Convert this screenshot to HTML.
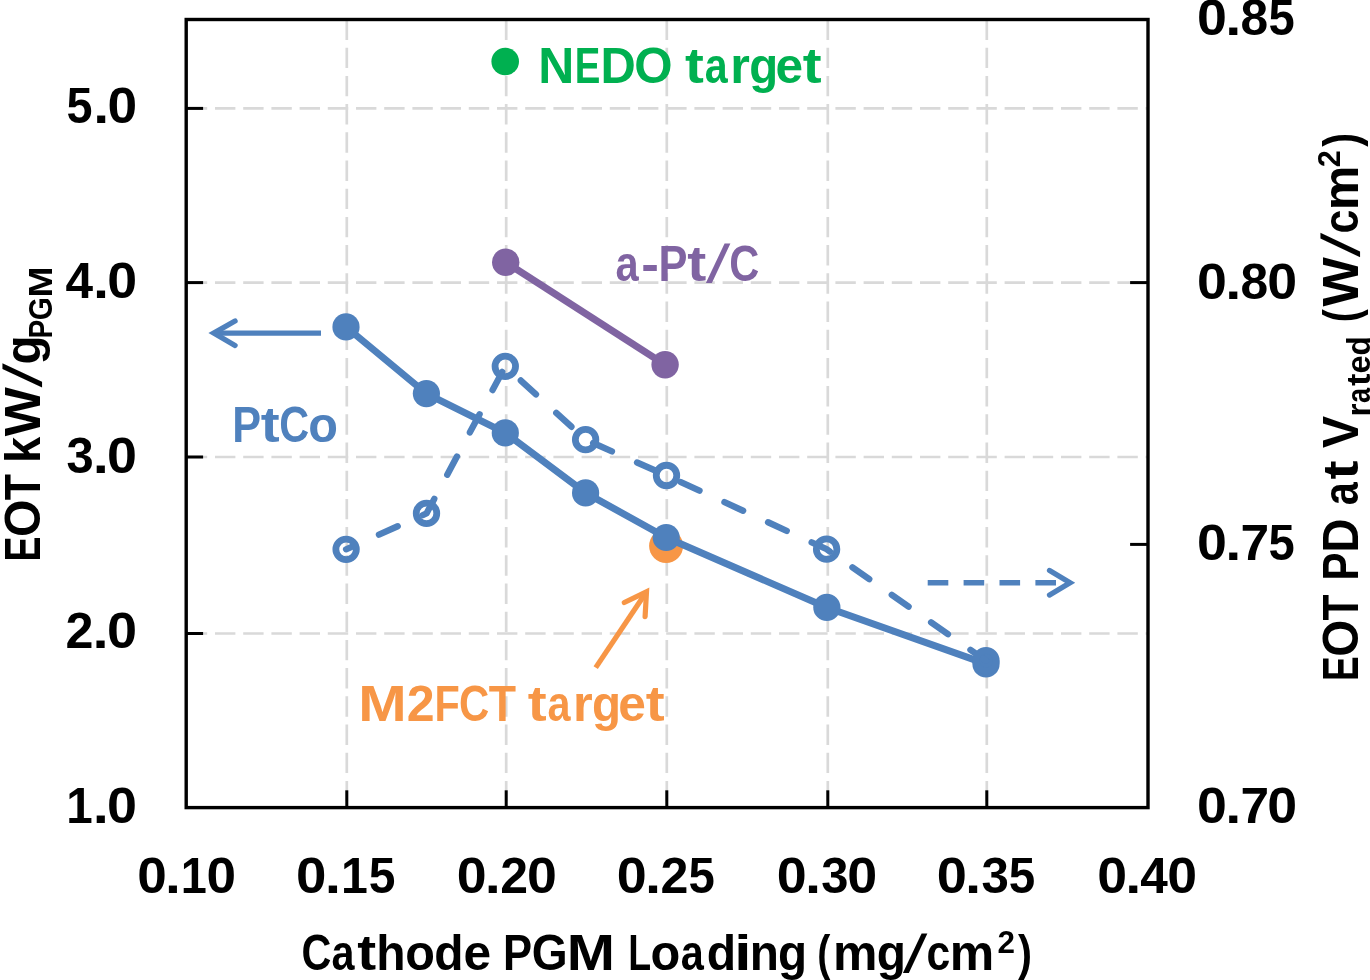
<!DOCTYPE html>
<html><head><meta charset="utf-8"><style>html,body{margin:0;padding:0;background:#fff;overflow:hidden}svg{display:block;will-change:transform}</style></head>
<body>
<svg width="1370" height="980" viewBox="0 0 1370 980">
<rect width="1370" height="980" fill="#fff"/>
<line x1="186.2" y1="108.4" x2="1148.0" y2="108.4" stroke="#D9D9D9" stroke-width="2.7" stroke-dasharray="20.4 7.8" stroke-dashoffset="-0.6"/>
<line x1="186.2" y1="282.6" x2="1148.0" y2="282.6" stroke="#D9D9D9" stroke-width="2.7" stroke-dasharray="20.4 7.8" stroke-dashoffset="-0.6"/>
<line x1="186.2" y1="457.0" x2="1148.0" y2="457.0" stroke="#D9D9D9" stroke-width="2.7" stroke-dasharray="20.4 7.8" stroke-dashoffset="-0.6"/>
<line x1="186.2" y1="633.5" x2="1148.0" y2="633.5" stroke="#D9D9D9" stroke-width="2.7" stroke-dasharray="20.4 7.8" stroke-dashoffset="-0.6"/>
<line x1="346.8" y1="19.5" x2="346.8" y2="807.6" stroke="#D9D9D9" stroke-width="2.7" stroke-dasharray="20.4 7.8"/>
<line x1="506.2" y1="19.5" x2="506.2" y2="807.6" stroke="#D9D9D9" stroke-width="2.7" stroke-dasharray="20.4 7.8"/>
<line x1="666.8" y1="19.5" x2="666.8" y2="807.6" stroke="#D9D9D9" stroke-width="2.7" stroke-dasharray="20.4 7.8"/>
<line x1="827.8" y1="19.5" x2="827.8" y2="807.6" stroke="#D9D9D9" stroke-width="2.7" stroke-dasharray="20.4 7.8"/>
<line x1="986.8" y1="19.5" x2="986.8" y2="807.6" stroke="#D9D9D9" stroke-width="2.7" stroke-dasharray="20.4 7.8"/>
<line x1="186.2" y1="108.4" x2="203.1" y2="108.4" stroke="#000" stroke-width="3.0"/>
<line x1="186.2" y1="282.6" x2="203.1" y2="282.6" stroke="#000" stroke-width="3.0"/>
<line x1="186.2" y1="457.0" x2="203.1" y2="457.0" stroke="#000" stroke-width="3.0"/>
<line x1="186.2" y1="633.5" x2="203.1" y2="633.5" stroke="#000" stroke-width="3.0"/>
<line x1="1130.1" y1="282.6" x2="1148.0" y2="282.6" stroke="#000" stroke-width="3.0"/>
<line x1="1130.1" y1="544.4" x2="1148.0" y2="544.4" stroke="#000" stroke-width="3.0"/>
<line x1="346.8" y1="807.6" x2="346.8" y2="790.3" stroke="#000" stroke-width="3.0"/>
<line x1="506.2" y1="807.6" x2="506.2" y2="790.3" stroke="#000" stroke-width="3.0"/>
<line x1="666.8" y1="807.6" x2="666.8" y2="790.3" stroke="#000" stroke-width="3.0"/>
<line x1="827.8" y1="807.6" x2="827.8" y2="790.3" stroke="#000" stroke-width="3.0"/>
<line x1="986.8" y1="807.6" x2="986.8" y2="790.3" stroke="#000" stroke-width="3.0"/>
<rect x="186.2" y="19.5" width="961.8" height="788.1" fill="none" stroke="#000" stroke-width="3.4"/>
<text y="893.3" font-size="50" font-family="Liberation Sans, sans-serif" font-weight="bold" fill="#000"><tspan x="137.20" textLength="29.54" lengthAdjust="spacingAndGlyphs">0</tspan><tspan x="164.99" textLength="15.90" lengthAdjust="spacingAndGlyphs">.</tspan><tspan x="180.82" textLength="26.07" lengthAdjust="spacingAndGlyphs">1</tspan><tspan x="206.64" textLength="29.54" lengthAdjust="spacingAndGlyphs">0</tspan></text>
<text y="893.3" font-size="50" font-family="Liberation Sans, sans-serif" font-weight="bold" fill="#000"><tspan x="296.04" textLength="30.41" lengthAdjust="spacingAndGlyphs">0</tspan><tspan x="324.65" textLength="16.37" lengthAdjust="spacingAndGlyphs">.</tspan><tspan x="340.95" textLength="26.84" lengthAdjust="spacingAndGlyphs">1</tspan><tspan x="368.68" textLength="26.66" lengthAdjust="spacingAndGlyphs">5</tspan></text>
<text y="893.3" font-size="50" font-family="Liberation Sans, sans-serif" font-weight="bold" fill="#000"><tspan x="456.78" textLength="29.88" lengthAdjust="spacingAndGlyphs">0</tspan><tspan x="484.89" textLength="16.08" lengthAdjust="spacingAndGlyphs">.</tspan><tspan x="500.34" textLength="27.78" lengthAdjust="spacingAndGlyphs">2</tspan><tspan x="527.02" textLength="29.88" lengthAdjust="spacingAndGlyphs">0</tspan></text>
<text y="893.3" font-size="50" font-family="Liberation Sans, sans-serif" font-weight="bold" fill="#000"><tspan x="616.77" textLength="29.99" lengthAdjust="spacingAndGlyphs">0</tspan><tspan x="644.99" textLength="16.14" lengthAdjust="spacingAndGlyphs">.</tspan><tspan x="660.50" textLength="27.89" lengthAdjust="spacingAndGlyphs">2</tspan><tspan x="688.42" textLength="26.29" lengthAdjust="spacingAndGlyphs">5</tspan></text>
<text y="893.3" font-size="50" font-family="Liberation Sans, sans-serif" font-weight="bold" fill="#000"><tspan x="776.77" textLength="29.97" lengthAdjust="spacingAndGlyphs">0</tspan><tspan x="804.97" textLength="16.13" lengthAdjust="spacingAndGlyphs">.</tspan><tspan x="821.27" textLength="27.20" lengthAdjust="spacingAndGlyphs">3</tspan><tspan x="847.24" textLength="29.97" lengthAdjust="spacingAndGlyphs">0</tspan></text>
<text y="893.3" font-size="50" font-family="Liberation Sans, sans-serif" font-weight="bold" fill="#000"><tspan x="936.76" textLength="30.15" lengthAdjust="spacingAndGlyphs">0</tspan><tspan x="965.12" textLength="16.23" lengthAdjust="spacingAndGlyphs">.</tspan><tspan x="981.53" textLength="27.37" lengthAdjust="spacingAndGlyphs">3</tspan><tspan x="1008.79" textLength="26.43" lengthAdjust="spacingAndGlyphs">5</tspan></text>
<text y="893.3" font-size="50" font-family="Liberation Sans, sans-serif" font-weight="bold" fill="#000"><tspan x="1097.28" textLength="29.82" lengthAdjust="spacingAndGlyphs">0</tspan><tspan x="1125.33" textLength="16.05" lengthAdjust="spacingAndGlyphs">.</tspan><tspan x="1140.29" textLength="27.53" lengthAdjust="spacingAndGlyphs">4</tspan><tspan x="1167.38" textLength="29.82" lengthAdjust="spacingAndGlyphs">0</tspan></text>
<text y="823" font-size="50" font-family="Liberation Sans, sans-serif" font-weight="bold" fill="#000"><tspan x="66.20" textLength="26.47" lengthAdjust="spacingAndGlyphs">1</tspan><tspan x="92.73" textLength="16.14" lengthAdjust="spacingAndGlyphs">.</tspan><tspan x="107.12" textLength="29.99" lengthAdjust="spacingAndGlyphs">0</tspan></text>
<text y="648" font-size="50" font-family="Liberation Sans, sans-serif" font-weight="bold" fill="#000"><tspan x="65.46" textLength="27.96" lengthAdjust="spacingAndGlyphs">2</tspan><tspan x="92.62" textLength="16.18" lengthAdjust="spacingAndGlyphs">.</tspan><tspan x="107.05" textLength="30.07" lengthAdjust="spacingAndGlyphs">0</tspan></text>
<text y="472.5" font-size="50" font-family="Liberation Sans, sans-serif" font-weight="bold" fill="#000"><tspan x="66.48" textLength="27.20" lengthAdjust="spacingAndGlyphs">3</tspan><tspan x="92.76" textLength="16.13" lengthAdjust="spacingAndGlyphs">.</tspan><tspan x="107.14" textLength="29.97" lengthAdjust="spacingAndGlyphs">0</tspan></text>
<text y="298" font-size="50" font-family="Liberation Sans, sans-serif" font-weight="bold" fill="#000"><tspan x="65.45" textLength="27.58" lengthAdjust="spacingAndGlyphs">4</tspan><tspan x="92.90" textLength="16.08" lengthAdjust="spacingAndGlyphs">.</tspan><tspan x="107.23" textLength="29.87" lengthAdjust="spacingAndGlyphs">0</tspan></text>
<text y="122.6" font-size="50" font-family="Liberation Sans, sans-serif" font-weight="bold" fill="#000"><tspan x="66.46" textLength="25.98" lengthAdjust="spacingAndGlyphs">5</tspan><tspan x="93.23" textLength="15.95" lengthAdjust="spacingAndGlyphs">.</tspan><tspan x="107.45" textLength="29.64" lengthAdjust="spacingAndGlyphs">0</tspan></text>
<text y="35" font-size="50" font-family="Liberation Sans, sans-serif" font-weight="bold" fill="#000"><tspan x="1197.07" textLength="29.90" lengthAdjust="spacingAndGlyphs">0</tspan><tspan x="1225.20" textLength="16.09" lengthAdjust="spacingAndGlyphs">.</tspan><tspan x="1240.61" textLength="27.66" lengthAdjust="spacingAndGlyphs">8</tspan><tspan x="1268.50" textLength="26.21" lengthAdjust="spacingAndGlyphs">5</tspan></text>
<text y="298.6" font-size="50" font-family="Liberation Sans, sans-serif" font-weight="bold" fill="#000"><tspan x="1197.08" textLength="29.88" lengthAdjust="spacingAndGlyphs">0</tspan><tspan x="1225.19" textLength="16.08" lengthAdjust="spacingAndGlyphs">.</tspan><tspan x="1240.58" textLength="27.64" lengthAdjust="spacingAndGlyphs">8</tspan><tspan x="1267.32" textLength="29.88" lengthAdjust="spacingAndGlyphs">0</tspan></text>
<text y="559.8" font-size="50" font-family="Liberation Sans, sans-serif" font-weight="bold" fill="#000"><tspan x="1197.07" textLength="29.90" lengthAdjust="spacingAndGlyphs">0</tspan><tspan x="1225.20" textLength="16.09" lengthAdjust="spacingAndGlyphs">.</tspan><tspan x="1240.54" textLength="28.65" lengthAdjust="spacingAndGlyphs">7</tspan><tspan x="1268.50" textLength="26.21" lengthAdjust="spacingAndGlyphs">5</tspan></text>
<text y="823.4" font-size="50" font-family="Liberation Sans, sans-serif" font-weight="bold" fill="#000"><tspan x="1197.08" textLength="29.88" lengthAdjust="spacingAndGlyphs">0</tspan><tspan x="1225.19" textLength="16.08" lengthAdjust="spacingAndGlyphs">.</tspan><tspan x="1240.51" textLength="28.63" lengthAdjust="spacingAndGlyphs">7</tspan><tspan x="1267.32" textLength="29.88" lengthAdjust="spacingAndGlyphs">0</tspan></text>
<text y="970.2" font-size="50" font-family="Liberation Sans, sans-serif" font-weight="bold" fill="#000"><tspan x="301.40" textLength="29.88" lengthAdjust="spacingAndGlyphs">C</tspan><tspan x="331.43" textLength="22.99" lengthAdjust="spacingAndGlyphs">a</tspan><tspan x="357.31" textLength="18.90" lengthAdjust="spacingAndGlyphs">t</tspan><tspan x="376.27" textLength="29.33" lengthAdjust="spacingAndGlyphs">h</tspan><tspan x="405.18" textLength="29.68" lengthAdjust="spacingAndGlyphs">o</tspan><tspan x="434.31" textLength="29.29" lengthAdjust="spacingAndGlyphs">d</tspan><tspan x="463.45" textLength="27.65" lengthAdjust="spacingAndGlyphs">e</tspan></text>
<text y="970.2" font-size="50" font-family="Liberation Sans, sans-serif" font-weight="bold" fill="#000"><tspan x="503.08" textLength="29.08" lengthAdjust="spacingAndGlyphs">P</tspan><tspan x="531.64" textLength="35.91" lengthAdjust="spacingAndGlyphs">G</tspan><tspan x="566.87" textLength="48.21" lengthAdjust="spacingAndGlyphs">M</tspan></text>
<text y="970.2" font-size="50" font-family="Liberation Sans, sans-serif" font-weight="bold" fill="#000"><tspan x="628.19" textLength="22.89" lengthAdjust="spacingAndGlyphs">L</tspan><tspan x="650.58" textLength="29.76" lengthAdjust="spacingAndGlyphs">o</tspan><tspan x="680.81" textLength="23.05" lengthAdjust="spacingAndGlyphs">a</tspan><tspan x="706.64" textLength="29.37" lengthAdjust="spacingAndGlyphs">d</tspan><tspan x="734.20" textLength="17.21" lengthAdjust="spacingAndGlyphs">i</tspan><tspan x="749.64" textLength="29.17" lengthAdjust="spacingAndGlyphs">n</tspan><tspan x="777.98" textLength="29.10" lengthAdjust="spacingAndGlyphs">g</tspan></text>
<text y="970.2" font-size="50" font-family="Liberation Sans, sans-serif" font-weight="bold" fill="#000"><tspan x="817.34" textLength="13.09" lengthAdjust="spacingAndGlyphs">(</tspan><tspan x="833.10" textLength="44.45" lengthAdjust="spacingAndGlyphs">m</tspan><tspan x="876.70" textLength="29.22" lengthAdjust="spacingAndGlyphs">g</tspan></text>
<text transform=" translate(902.65,971.54) scale(1,1.0645) skewX(-17.26)" x="0" y="0" font-size="50" font-family="Liberation Sans, sans-serif" font-weight="bold" fill="#000">/</text>
<text y="970.2" font-size="50" font-family="Liberation Sans, sans-serif" font-weight="bold" fill="#000"><tspan x="926.57" textLength="23.75" lengthAdjust="spacingAndGlyphs">c</tspan><tspan x="949.75" textLength="44.45" lengthAdjust="spacingAndGlyphs">m</tspan></text>
<text x="997.42" y="952.8" font-size="32" font-family="Liberation Sans, sans-serif" font-weight="bold" fill="#000" textLength="17.46" lengthAdjust="spacingAndGlyphs">2</text>
<text x="1018.10" y="970.2" font-size="50" font-family="Liberation Sans, sans-serif" font-weight="bold" fill="#000" textLength="14.04" lengthAdjust="spacingAndGlyphs">)</text>
<text y="82.5" font-size="50" font-family="Liberation Sans, sans-serif" font-weight="bold" fill="#00B050"><tspan x="538.16" textLength="36.04" lengthAdjust="spacingAndGlyphs">N</tspan><tspan x="574.64" textLength="25.60" lengthAdjust="spacingAndGlyphs">E</tspan><tspan x="600.41" textLength="35.27" lengthAdjust="spacingAndGlyphs">D</tspan><tspan x="634.13" textLength="38.34" lengthAdjust="spacingAndGlyphs">O</tspan></text>
<text y="82.5" font-size="50" font-family="Liberation Sans, sans-serif" font-weight="bold" fill="#00B050"><tspan x="685.11" textLength="18.85" lengthAdjust="spacingAndGlyphs">t</tspan><tspan x="704.78" textLength="22.93" lengthAdjust="spacingAndGlyphs">a</tspan><tspan x="730.36" textLength="19.63" lengthAdjust="spacingAndGlyphs">r</tspan><tspan x="749.32" textLength="28.95" lengthAdjust="spacingAndGlyphs">g</tspan><tspan x="775.41" textLength="27.58" lengthAdjust="spacingAndGlyphs">e</tspan><tspan x="802.74" textLength="18.85" lengthAdjust="spacingAndGlyphs">t</tspan></text>
<text y="280.5" font-size="50" font-family="Liberation Sans, sans-serif" font-weight="bold" fill="#8064A2"><tspan x="615.48" textLength="23.13" lengthAdjust="spacingAndGlyphs">a</tspan><tspan x="641.26" textLength="17.66" lengthAdjust="spacingAndGlyphs">-</tspan><tspan x="658.58" textLength="28.97" lengthAdjust="spacingAndGlyphs">P</tspan><tspan x="687.29" textLength="19.01" lengthAdjust="spacingAndGlyphs">t</tspan></text>
<text transform=" translate(705.75,281.84) scale(1,1.0645) skewX(-17.24)" x="0" y="0" font-size="50" font-family="Liberation Sans, sans-serif" font-weight="bold" fill="#8064A2">/</text>
<text y="280.5" font-size="50" font-family="Liberation Sans, sans-serif" font-weight="bold" fill="#8064A2"><tspan x="729.27" textLength="30.06" lengthAdjust="spacingAndGlyphs">C</tspan></text>
<text y="441.9" font-size="50" font-family="Liberation Sans, sans-serif" font-weight="bold" fill="#4F81BD"><tspan x="232.21" textLength="28.82" lengthAdjust="spacingAndGlyphs">P</tspan><tspan x="260.77" textLength="18.92" lengthAdjust="spacingAndGlyphs">t</tspan><tspan x="279.21" textLength="29.91" lengthAdjust="spacingAndGlyphs">C</tspan><tspan x="308.29" textLength="29.71" lengthAdjust="spacingAndGlyphs">o</tspan></text>
<text y="720.6" font-size="50" font-family="Liberation Sans, sans-serif" font-weight="bold" fill="#F79646"><tspan x="358.31" textLength="48.40" lengthAdjust="spacingAndGlyphs">M</tspan><tspan x="406.68" textLength="27.87" lengthAdjust="spacingAndGlyphs">2</tspan><tspan x="434.61" textLength="25.27" lengthAdjust="spacingAndGlyphs">F</tspan><tspan x="459.12" textLength="30.30" lengthAdjust="spacingAndGlyphs">C</tspan><tspan x="488.82" textLength="27.26" lengthAdjust="spacingAndGlyphs">T</tspan></text>
<text y="720.6" font-size="50" font-family="Liberation Sans, sans-serif" font-weight="bold" fill="#F79646"><tspan x="527.71" textLength="18.91" lengthAdjust="spacingAndGlyphs">t</tspan><tspan x="547.44" textLength="23.00" lengthAdjust="spacingAndGlyphs">a</tspan><tspan x="573.09" textLength="19.69" lengthAdjust="spacingAndGlyphs">r</tspan><tspan x="592.11" textLength="29.04" lengthAdjust="spacingAndGlyphs">g</tspan><tspan x="618.28" textLength="27.66" lengthAdjust="spacingAndGlyphs">e</tspan><tspan x="645.69" textLength="18.91" lengthAdjust="spacingAndGlyphs">t</tspan></text>
<text transform="translate(39.7,559.0) rotate(-90)" y="0" font-size="50" font-family="Liberation Sans, sans-serif" font-weight="bold" fill="#000"><tspan x="-2.50" textLength="24.98" lengthAdjust="spacingAndGlyphs">E</tspan><tspan x="22.09" textLength="37.41" lengthAdjust="spacingAndGlyphs">O</tspan><tspan x="58.68" textLength="26.28" lengthAdjust="spacingAndGlyphs">T</tspan></text>
<text transform="translate(39.7,459.8) rotate(-90)" y="0" font-size="50" font-family="Liberation Sans, sans-serif" font-weight="bold" fill="#000"><tspan x="-3.29" textLength="26.17" lengthAdjust="spacingAndGlyphs">k</tspan><tspan x="23.47" textLength="48.94" lengthAdjust="spacingAndGlyphs">W</tspan></text>
<text transform="translate(39.7,459.8) rotate(-90) translate(71.94,1.34) scale(1,1.0645) skewX(-17.14)" x="0" y="0" font-size="50" font-family="Liberation Sans, sans-serif" font-weight="bold" fill="#000">/</text>
<text transform="translate(39.7,459.8) rotate(-90)" y="0" font-size="50" font-family="Liberation Sans, sans-serif" font-weight="bold" fill="#000"><tspan x="95.28" textLength="29.11" lengthAdjust="spacingAndGlyphs">g</tspan></text>
<text transform="translate(52.0,336.7) rotate(-90)" y="0" font-size="34" font-family="Liberation Sans, sans-serif" font-weight="bold" fill="#000"><tspan x="-1.88" textLength="18.71" lengthAdjust="spacingAndGlyphs">P</tspan><tspan x="16.50" textLength="23.11" lengthAdjust="spacingAndGlyphs">G</tspan><tspan x="39.17" textLength="31.02" lengthAdjust="spacingAndGlyphs">M</tspan></text>
<text transform="translate(1357.7,678.5) rotate(-90)" y="0" font-size="50" font-family="Liberation Sans, sans-serif" font-weight="bold" fill="#000"><tspan x="-2.48" textLength="24.71" lengthAdjust="spacingAndGlyphs">E</tspan><tspan x="21.86" textLength="37.01" lengthAdjust="spacingAndGlyphs">O</tspan><tspan x="58.06" textLength="26.00" lengthAdjust="spacingAndGlyphs">T</tspan></text>
<text transform="translate(1357.7,577.6) rotate(-90)" y="0" font-size="50" font-family="Liberation Sans, sans-serif" font-weight="bold" fill="#000"><tspan x="-2.81" textLength="28.01" lengthAdjust="spacingAndGlyphs">P</tspan><tspan x="24.95" textLength="34.24" lengthAdjust="spacingAndGlyphs">D</tspan></text>
<text transform="translate(1357.7,504.1) rotate(-90)" y="0" font-size="50" font-family="Liberation Sans, sans-serif" font-weight="bold" fill="#000"><tspan x="-1.21" textLength="23.01" lengthAdjust="spacingAndGlyphs">a</tspan><tspan x="24.68" textLength="18.91" lengthAdjust="spacingAndGlyphs">t</tspan></text>
<text transform="translate(1357.7,448.0) rotate(-90)" x="0.00" y="0" font-size="50" font-family="Liberation Sans, sans-serif" font-weight="bold" fill="#000" textLength="32.05" lengthAdjust="spacingAndGlyphs">V</text>
<text transform="translate(1369.5,414.2) rotate(-90)" y="0" font-size="34" font-family="Liberation Sans, sans-serif" font-weight="bold" fill="#000"><tspan x="-2.19" textLength="12.96" lengthAdjust="spacingAndGlyphs">r</tspan><tspan x="11.26" textLength="15.14" lengthAdjust="spacingAndGlyphs">a</tspan><tspan x="28.29" textLength="12.44" lengthAdjust="spacingAndGlyphs">t</tspan><tspan x="40.63" textLength="18.20" lengthAdjust="spacingAndGlyphs">e</tspan><tspan x="58.59" textLength="19.29" lengthAdjust="spacingAndGlyphs">d</tspan></text>
<text transform="translate(1357.7,320.4) rotate(-90)" y="0" font-size="50" font-family="Liberation Sans, sans-serif" font-weight="bold" fill="#000"><tspan x="-1.97" textLength="13.14" lengthAdjust="spacingAndGlyphs">(</tspan><tspan x="13.93" textLength="49.32" lengthAdjust="spacingAndGlyphs">W</tspan></text>
<text transform="translate(1357.7,320.4) rotate(-90) translate(62.78,1.34) scale(1,1.0645) skewX(-17.40)" x="0" y="0" font-size="50" font-family="Liberation Sans, sans-serif" font-weight="bold" fill="#000">/</text>
<text transform="translate(1357.7,320.4) rotate(-90)" y="0" font-size="50" font-family="Liberation Sans, sans-serif" font-weight="bold" fill="#000"><tspan x="86.81" textLength="23.85" lengthAdjust="spacingAndGlyphs">c</tspan><tspan x="110.08" textLength="44.64" lengthAdjust="spacingAndGlyphs">m</tspan></text>
<text transform="translate(1340.0,166.3) rotate(-90)" x="-0.96" y="0" font-size="32" font-family="Liberation Sans, sans-serif" font-weight="bold" fill="#000" textLength="17.02" lengthAdjust="spacingAndGlyphs">2</text>
<text transform="translate(1357.7,146.7) rotate(-90)" x="0.00" y="0" font-size="50" font-family="Liberation Sans, sans-serif" font-weight="bold" fill="#000" textLength="13.92" lengthAdjust="spacingAndGlyphs">)</text>
<circle cx="666.1" cy="546.1" r="17.0" fill="#F79646"/>
<circle cx="505.2" cy="61.5" r="13.8" fill="#00B050"/>
<polyline points="505.7,262.3 665.1,364.8" fill="none" stroke="#8064A2" stroke-width="7.0"/>
<circle cx="505.7" cy="262.3" r="13.7" fill="#8064A2"/>
<circle cx="665.1" cy="364.8" r="13.7" fill="#8064A2"/>
<polyline points="346.0,326.9 426.4,393.6 505.3,432.9 585.6,492.9 666.2,537.5 826.85,607.45 986.0,663.9" fill="none" stroke="#4F81BD" stroke-width="7.0" stroke-linejoin="round"/>
<circle cx="346.0" cy="326.9" r="13.6" fill="#4F81BD"/>
<circle cx="426.4" cy="393.6" r="13.6" fill="#4F81BD"/>
<circle cx="505.3" cy="432.9" r="13.6" fill="#4F81BD"/>
<circle cx="585.6" cy="492.9" r="13.6" fill="#4F81BD"/>
<circle cx="666.2" cy="537.5" r="13.6" fill="#4F81BD"/>
<circle cx="826.85" cy="607.45" r="13.6" fill="#4F81BD"/>
<circle cx="986.0" cy="663.9" r="13.6" fill="#4F81BD"/>
<polyline points="346.1,549.3 426.5,513.4 505.3,366.3 585.6,439.7 666.5,475.5 826.6,549.2 986.0,660.7" fill="none" stroke="#4F81BD" stroke-width="6.4" stroke-linecap="round" stroke-linejoin="round" stroke-dasharray="20.5 27.5" stroke-dashoffset="12.0"/>
<circle cx="346.1" cy="549.3" r="10.25" fill="none" stroke="#4F81BD" stroke-width="6.8"/>
<circle cx="426.5" cy="513.4" r="10.25" fill="none" stroke="#4F81BD" stroke-width="6.8"/>
<circle cx="505.3" cy="366.3" r="10.25" fill="none" stroke="#4F81BD" stroke-width="6.8"/>
<circle cx="585.6" cy="439.7" r="10.25" fill="none" stroke="#4F81BD" stroke-width="6.8"/>
<circle cx="666.5" cy="475.5" r="10.25" fill="none" stroke="#4F81BD" stroke-width="6.8"/>
<circle cx="826.6" cy="549.2" r="10.25" fill="none" stroke="#4F81BD" stroke-width="6.8"/>
<circle cx="986.0" cy="660.7" r="10.25" fill="none" stroke="#4F81BD" stroke-width="6.8"/>
<line x1="321" y1="333.1" x2="215" y2="333.1" stroke="#4F81BD" stroke-width="5.4"/>
<polyline points="235,321 213.8,333.1 235,345.5" fill="none" stroke="#4F81BD" stroke-width="5.4" stroke-linecap="round" stroke-linejoin="miter"/>
<line x1="927.7" y1="582.7" x2="1069" y2="582.7" stroke="#4F81BD" stroke-width="5.4" stroke-dasharray="20.6 15.3"/>
<polyline points="1049.6,570.5 1070,582.7 1049.6,595.0" fill="none" stroke="#4F81BD" stroke-width="5.4" stroke-linecap="round" stroke-linejoin="miter"/>
<line x1="595.7" y1="667.6" x2="646" y2="592.5" stroke="#F79646" stroke-width="5.2"/>
<polyline points="624.3,602.5 646.5,591.8 645.1,616.6" fill="none" stroke="#F79646" stroke-width="5.2" stroke-linecap="round" stroke-linejoin="miter"/>
</svg>
</body></html>
